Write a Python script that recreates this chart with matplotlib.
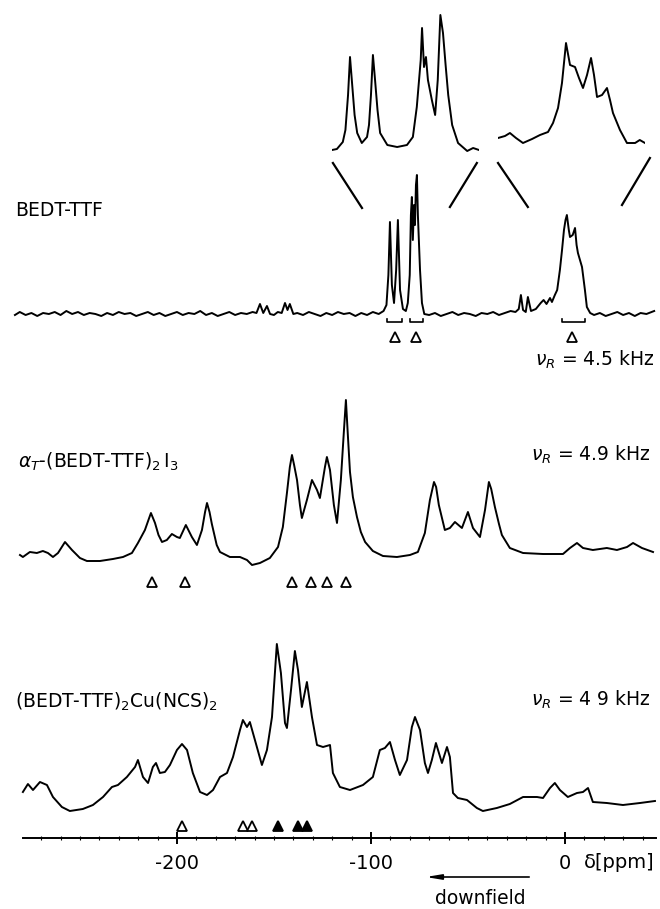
"""13C MAS NMR spectra of BEDT-TTF and two of its salts (stacked traces)."""

import matplotlib
matplotlib.use("Agg")
import matplotlib.pyplot as plt
from matplotlib.ticker import FixedLocator

# ---- data (chemical shift in ppm, intensity in arbitrary units) ----
# BEDT-TTF, nu_R = 4.5 kHz
bedt_ppm = [-283.5, -281, -278, -275, -272, -269, -266, -263, -260, -257,
            -254, -251, -248, -245, -242, -239, -236, -233, -230, -227,
            -224, -221, -218, -215, -212, -209, -206, -203, -200, -197,
            -194, -191, -188, -185, -182, -179, -176, -173, -170, -167,
            -164, -161, -159, -157.2, -155.5, -153.6, -152, -150, -148, -146,
            -144.3, -143, -141.8, -140, -138, -135, -132, -129, -126, -123,
            -120, -117, -114, -111, -108, -105, -102, -99, -96, -93.5,
            -92, -91, -90.2, -89.2, -88.1, -87, -86.1, -85, -83.5, -82,
            -81, -80, -79.4, -78.9, -78.4, -77.8, -77.3, -76.8, -76.3, -75.8,
            -74.7, -73.7, -72.5, -70, -67, -64, -61, -58, -55, -52,
            -49, -46, -43, -40, -37, -34, -31, -28, -25.5, -23.8,
            -22.7, -21.6, -20.2, -19.1, -17.5, -15, -12.5, -11, -9.5, -7.7,
            -6.7, -5.2, -4, -2.6, -1.5, -0.5, 0.3, 1.0, 2.0, 2.6,
            4.0, 5.2, 6.0, 6.7, 8.8, 10.3, 11.3, 13, 15, 18,
            21, 24, 27, 30, 33, 36, 39, 42, 46]
bedt_int = [0, 3, 0, 2, -1, 2, 1, 3, 0, 4,
            1, 3, 0, 2, 1, -1, 2, 0, 3, 1,
            2, -1, 1, 3, 0, 2, -1, 1, 3, 0,
            2, 1, 4, 0, 2, -1, 1, 3, 0, 2,
            1, 3, 2, 11, 2, 9, 1, 0, 3, 2,
            12, 5, 11, 1, 2, 0, 3, 1, -1, 2,
            0, 3, 1, 2, -1, 2, 0, 3, 1, 4,
            10, 40, 93, 30, 12, 45, 95, 25, 6, 4,
            12, 40, 100, 118, 75, 110, 90, 130, 140, 100,
            45, 12, 1, 0, 2, -1, 1, 3, 0, 2,
            1, -1, 2, 1, 3, 0, 2, 4, 3, 6,
            20, 5, 3, 18, 4, 6, 12, 15, 11, 17,
            13, 20, 25, 45, 65, 85, 95, 100, 85, 78,
            80, 87, 70, 62, 48, 25, 8, 2, 0, 2,
            -1, 1, 3, 0, 2, -1, 2, 1, 4]

# expanded views of the BEDT-TTF spectrum
zoom1_ppm = [-92.95, -92.2, -91.3, -90.9, -90.5, -90.2, -89.9, -89.5, -89.1, -88.4,
             -87.6, -87.3, -87.0, -86.7, -86.4, -86.0, -85.6, -84.5, -83.0, -81.5,
             -80.6, -80.0, -79.4, -79.2, -78.9, -78.6, -78.3, -77.7, -77.2, -76.8,
             -76.4, -76.0, -75.6, -75.2, -74.6, -73.7, -72.3, -71.4, -70.5]
zoom1_int = [0, 1, 8, 20, 55, 93, 68, 35, 17, 7,
             13, 25, 55, 95, 72, 40, 17, 5, 3, 5,
             13, 43, 90, 122, 83, 93, 70, 50, 35, 70,
             135, 117, 85, 55, 25, 7, -1, 2, 0]
zoom2_ppm = [-10.65, -9.45, -8.6, -7.56, -6.36, -4.8, -3.44, -2.06, -1.2, -0.34,
             0.34, 1.03, 1.72, 2.58, 3.26, 3.95, 4.64, 5.33, 5.84, 6.36,
             7.22, 8.07, 8.59, 9.1, 10.3, 11.5, 12.9, 13.7, 14.6]
zoom2_int = [12, 14, 17, 12, 7, 11, 15, 18, 27, 42,
             67, 107, 85, 83, 72, 62, 75, 92, 75, 53,
             55, 62, 50, 37, 20, 7, 7, 10, 7]

# alpha_T-(BEDT-TTF)2 I3, nu_R = 4.9 kHz
i3_ppm = [-280.9, -279.4, -275.8, -272.2, -269.1, -266.5, -263.9, -261.3, -257.7, -254.1,
          -250.0, -246.4, -239.7, -233.0, -227.8, -223.2, -220.1, -216.5, -214.5, -213.4,
          -211.3, -209.5, -207.7, -205.2, -202.6, -200.0, -198.5, -195.4, -192.3, -189.7,
          -187.1, -185.5, -184.5, -183.2, -182.0, -179.5, -177.8, -172.7, -167.5, -163.9,
          -161.3, -157.2, -152.1, -147.9, -145.4, -143.3, -141.8, -140.7, -139.6, -138.1,
          -136.6, -135.6, -133.0, -130.4, -127.8, -126.3, -123.7, -122.7, -121.1, -119.1,
          -117.5, -115.5, -113.9, -112.9, -111.9, -110.8, -109.3, -107.2, -105.2, -103.0,
          -99.0, -93.8, -86.6, -79.9, -75.8, -72.2, -69.6, -67.5, -66.4, -65.0,
          -61.9, -59.3, -56.7, -53.1, -50.0, -47.4, -43.8, -41.2, -39.2, -38.0,
          -36.1, -34.0, -32.5, -28.4, -21.6, -11.3, -1.0, 2.6, 6.2, 9.3,
          14.4, 21.6, 26.8, 32.0, 35.1, 39.7, 45.4]
i3_int = [2, 0, 5, 4, 6, 4, 0, 4, 15, 7,
          -1, -4, -4, -2, 0, 4, 14, 27, 38, 44,
          34, 22, 15, 17, 23, 20, 19, 32, 20, 12,
          27, 45, 54, 45, 33, 12, 5, 0, 0, -3,
          -8, -6, -1, 10, 30, 64, 90, 102, 92, 77,
          52, 39, 57, 77, 67, 59, 90, 100, 87, 52,
          34, 77, 127, 157, 122, 85, 60, 40, 25, 15,
          6, 1, 0, 2, 5, 24, 57, 75, 70, 52,
          27, 29, 35, 29, 45, 29, 20, 47, 75, 68,
          50, 33, 22, 9, 4, 3, 3, 9, 14, 9,
          7, 9, 7, 10, 14, 9, 5]

# (BEDT-TTF)2Cu(NCS)2, nu_R = 4.9 kHz
cu_ppm = [-279.4, -276.8, -274.2, -270.6, -267.0, -263.9, -259.3, -255.2, -248.5, -243.3,
          -238.1, -233.5, -230.4, -225.8, -221.6, -220.1, -217.5, -214.9, -212.4, -210.8,
          -208.8, -206.2, -203.6, -200.0, -197.4, -194.8, -191.8, -188.1, -184.5, -181.4,
          -177.8, -174.2, -171.1, -167.5, -166.0, -163.9, -162.4, -159.8, -156.2, -153.6,
          -151.0, -149.5, -148.5, -146.4, -144.3, -143.3, -141.2, -139.2, -137.6, -135.6,
          -133.0, -130.4, -127.8, -124.7, -121.1, -119.6, -116.0, -110.8, -104.1, -99.0,
          -95.4, -92.8, -90.2, -87.6, -85.1, -81.4, -78.9, -77.3, -74.7, -72.2,
          -70.6, -68.6, -66.5, -63.4, -60.8, -59.3, -57.7, -55.2, -50.5, -45.4,
          -42.3, -35.1, -28.4, -21.6, -14.4, -11.3, -7.7, -5.2, -2.6, 1.5,
          6.2, 9.3, 11.9, 14.4, 21.6, 29.9, 38.7, 46.4]
cu_int = [19, 27, 21, 29, 26, 14, 4, 0, 2, 6,
          14, 24, 26, 34, 44, 51, 34, 28, 44, 48,
          38, 39, 46, 61, 67, 61, 38, 19, 16, 21,
          34, 38, 54, 81, 91, 84, 89, 71, 46, 61,
          94, 138, 167, 138, 88, 83, 121, 160, 141, 104,
          129, 94, 66, 64, 66, 38, 24, 21, 26, 34,
          61, 63, 69, 51, 36, 51, 84, 94, 81, 48,
          38, 51, 68, 48, 64, 54, 18, 13, 11, 3,
          0, 3, 7, 14, 14, 13, 23, 28, 21, 14,
          18, 19, 23, 9, 8, 6, 8, 10]

# marked resonances (open / filled triangles)
bedt_marks = [-87.6, -76.8, 3.6]
bedt_brackets = [(-91.8, -84.0), (-79.9, -73.2), (-1.5, 10.3)]
i3_marks = [-212.9, -195.9, -140.7, -130.9, -122.7, -112.9]
cu_open_marks = [-197.4, -166.0, -161.3]
cu_filled_marks = [-147.9, -137.6, -133.0]

labels = ["BEDT-TTF", r"$\alpha_T$-(BEDT-TTF)$_2\,$I$_3$", r"(BEDT-TTF)$_2$Cu(NCS)$_2$"]
spin_rates = [r"$\nu_R$ = 4.5 kHz", r"$\nu_R$ = 4.9 kHz", r"$\nu_R$ = 4 9 kHz"]

# ---- layout ----
W, H = 660, 909
offsets = [594, 352, 98]       # vertical baseline of each trace
LW = 1.4
FS = 13.5

plt.rcParams["font.family"] = ["DejaVu Sans"]
plt.rcParams["mathtext.fontset"] = "dejavusans"

fig = plt.figure(figsize=(W / 100, H / 100), dpi=100)
ax = fig.add_axes([0, 0, 1, 1])
ax.set_xlim(-291.2, 49.0)
ax.set_ylim(0, H)

ax.plot(bedt_ppm, [v + offsets[0] for v in bedt_int], color="black", lw=LW)
ax.plot(i3_ppm, [v + offsets[1] for v in i3_int], color="black", lw=LW)
ax.plot(cu_ppm, [v + offsets[2] for v in cu_int], color="black", lw=LW)

# triangles and brackets
tri = dict(marker="^", ls="none", ms=6.5, mew=1.3, mec="black")
ax.plot(bedt_marks, [572] * len(bedt_marks), mfc="white", **tri)
ax.plot(i3_marks, [327] * len(i3_marks), mfc="white", **tri)
ax.plot(cu_open_marks, [83] * len(cu_open_marks), mfc="white", **tri)
ax.plot(cu_filled_marks, [83] * len(cu_filled_marks), mfc="black", **tri)
for a, b in bedt_brackets:
    ax.plot([a, a, b, b], [590, 587, 587, 590], color="black", lw=1.2)

# labels
ax.text(-283.5, 699, labels[0], fontsize=FS, ha="left", va="center")
ax.text(-282.0, 447, labels[1], fontsize=FS, ha="left", va="center")
ax.text(-283.5, 207, labels[2], fontsize=FS, ha="left", va="center")
ax.text(46.4, 549, spin_rates[0], fontsize=FS, ha="right", va="center")
ax.text(44.0, 454, spin_rates[1], fontsize=FS, ha="right", va="center")
ax.text(44.0, 209, spin_rates[2], fontsize=FS, ha="right", va="center")

# connector lines to the expanded views
for xs, ys in [((-119.6, -104.6), (746, 701)), ((-45.4, -59.3), (746, 702)),
               ((-34.5, -19.1), (746, 702)), ((43.8, 29.4), (751, 704))]:
    ax.plot(xs, ys, color="black", lw=1.6)

# chemical shift axis
for side in ["top", "left", "right"]:
    ax.spines[side].set_visible(False)
ax.spines["bottom"].set_position(("data", 71))
ax.spines["bottom"].set_bounds(-279.4, 46.9)
ax.spines["bottom"].set_linewidth(1.4)
ax.set_yticks([])
ax.set_xticks([-200, -100, 0])
ax.set_xticklabels(["-200", "-100", "0"])
ax.xaxis.set_minor_locator(FixedLocator(range(-270, 41, 10)))
ax.tick_params(axis="x", which="major", direction="inout", length=9, width=1.4,
               labelsize=FS + 0.5, pad=7)
ax.tick_params(axis="x", which="minor", direction="inout", length=3, width=0.8)
ax.text(46.0, 47, r"δ[ppm]", fontsize=FS + 0.5, ha="right", va="center")

ax.annotate("", xy=(-73.2, 32), xytext=(-17, 32),
            arrowprops=dict(arrowstyle="-|>,head_length=0.9,head_width=0.15",
                            color="black", lw=1.2))
ax.text(-43.8, 11, "downfield", fontsize=FS, ha="center", va="center")

# expanded views
for (x0, x1), ppm, inten in [((332, 479), zoom1_ppm, zoom1_int),
                             ((498, 645), zoom2_ppm, zoom2_int)]:
    iax = fig.add_axes([x0 / W, 1 - 160 / H, (x1 - x0) / W, 160 / H])
    iax.plot(ppm, inten, color="black", lw=LW)
    iax.set_xlim(ppm[0], ppm[-1])
    iax.set_ylim(-10, 150)
    iax.axis("off")

fig.savefig("out.png", dpi=100)
plt.close(fig)
